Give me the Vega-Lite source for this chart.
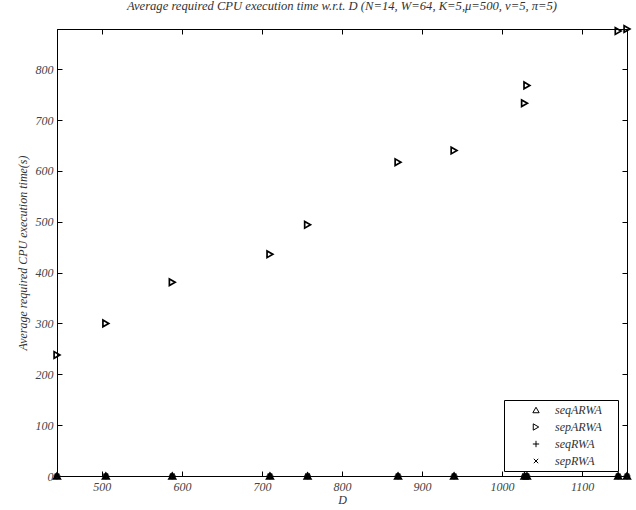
{
  "$schema": "https://vega.github.io/schema/vega-lite/v6.json",
  "autosize": {"type": "none"},
  "padding": {"left": 57, "top": 29, "right": 9, "bottom": 34},
  "width": 570,
  "height": 447,
  "background": "white",
  "title": {
    "text": "Average required CPU execution time w.r.t. D (N=14, W=64, K=5,μ=500, ν=5, π=5)",
    "font": "Liberation Serif",
    "fontStyle": "italic",
    "fontWeight": "normal",
    "fontSize": 12.6,
    "color": "#333333",
    "anchor": "middle",
    "offset": 10
  },
  "config": {
    "view": {"stroke": "black", "strokeWidth": 1},
    "axis": {
      "grid": false,
      "domainColor": "black",
      "tickColor": "black",
      "labelFont": "Liberation Serif",
      "labelFontStyle": "italic",
      "labelFontSize": 12,
      "labelColor": "#444444",
      "titleFont": "Liberation Serif",
      "titleFontStyle": "italic",
      "titleFontWeight": "normal",
      "titleFontSize": 12,
      "titleColor": "#333333"
    }
  },
  "data": {
    "values": [
      {"D": 444, "series": "sepARWA", "t": 238},
      {"D": 505, "series": "sepARWA", "t": 300},
      {"D": 588, "series": "sepARWA", "t": 381},
      {"D": 710, "series": "sepARWA", "t": 436},
      {"D": 757, "series": "sepARWA", "t": 494},
      {"D": 870, "series": "sepARWA", "t": 617},
      {"D": 940, "series": "sepARWA", "t": 640},
      {"D": 1028, "series": "sepARWA", "t": 733},
      {"D": 1031, "series": "sepARWA", "t": 768},
      {"D": 1145, "series": "sepARWA", "t": 875},
      {"D": 1156, "series": "sepARWA", "t": 879},
      {"D": 444, "series": "seqARWA", "t": 0},
      {"D": 505, "series": "seqARWA", "t": 0},
      {"D": 588, "series": "seqARWA", "t": 0},
      {"D": 710, "series": "seqARWA", "t": 0},
      {"D": 757, "series": "seqARWA", "t": 0},
      {"D": 870, "series": "seqARWA", "t": 0},
      {"D": 940, "series": "seqARWA", "t": 0},
      {"D": 1028, "series": "seqARWA", "t": 0},
      {"D": 1031, "series": "seqARWA", "t": 0},
      {"D": 1145, "series": "seqARWA", "t": 0},
      {"D": 1156, "series": "seqARWA", "t": 0},
      {"D": 444, "series": "seqRWA", "t": 0},
      {"D": 505, "series": "seqRWA", "t": 0},
      {"D": 588, "series": "seqRWA", "t": 0},
      {"D": 710, "series": "seqRWA", "t": 0},
      {"D": 757, "series": "seqRWA", "t": 0},
      {"D": 870, "series": "seqRWA", "t": 0},
      {"D": 940, "series": "seqRWA", "t": 0},
      {"D": 1028, "series": "seqRWA", "t": 0},
      {"D": 1031, "series": "seqRWA", "t": 0},
      {"D": 1145, "series": "seqRWA", "t": 0},
      {"D": 1156, "series": "seqRWA", "t": 0},
      {"D": 444, "series": "sepRWA", "t": 0},
      {"D": 505, "series": "sepRWA", "t": 0},
      {"D": 588, "series": "sepRWA", "t": 0},
      {"D": 710, "series": "sepRWA", "t": 0},
      {"D": 757, "series": "sepRWA", "t": 0},
      {"D": 870, "series": "sepRWA", "t": 0},
      {"D": 940, "series": "sepRWA", "t": 0},
      {"D": 1028, "series": "sepRWA", "t": 0},
      {"D": 1031, "series": "sepRWA", "t": 0},
      {"D": 1145, "series": "sepRWA", "t": 0},
      {"D": 1156, "series": "sepRWA", "t": 0}
    ]
  },
  "layer": [
    {
      "mark": {"type": "point", "filled": false, "color": "black", "strokeWidth": 1.7, "size": 45, "opacity": 1},
      "encoding": {
        "x": {
          "field": "D", "type": "quantitative",
          "scale": {"domain": [444, 1156], "nice": false, "zero": false},
          "axis": {"values": [500, 600, 700, 800, 900, 1000, 1100], "format": "d", "tickSize": -5, "labelPadding": 10, "title": "D", "titlePadding": 2}
        },
        "y": {
          "field": "t", "type": "quantitative",
          "scale": {"domain": [0, 879], "nice": false},
          "axis": {"values": [0, 100, 200, 300, 400, 500, 600, 700, 800], "format": "d", "tickSize": -5, "labelPadding": 9, "title": "Average required CPU execution time(s)", "titlePadding": 6}
        },
        "shape": {
          "field": "series", "type": "nominal",
          "scale": {
            "domain": ["seqARWA", "sepARWA", "seqRWA", "sepRWA"],
            "range": ["triangle-up", "triangle-right", "M-1,0H1M0,-1V1", "M-0.7,-0.7L0.7,0.7M-0.7,0.7L0.7,-0.7"]
          },
          "legend": {
            "title": ".",
            "titleOrient": "right",
            "titleColor": "transparent",
            "titleFontSize": 12,
            "titlePadding": 8,
            "orient": "none",
            "legendX": 447,
            "legendY": 371,
            "padding": 4,
            "fillColor": "white",
            "strokeColor": "black",
            "symbolOffset": 22,
            "labelOffset": 13,
            "rowPadding": 5,
            "symbolSize": 40,
            "symbolStrokeColor": "black",
            "symbolStrokeWidth": 1,
            "symbolFillColor": "transparent",
            "labelFont": "Liberation Serif",
            "labelFontStyle": "italic",
            "labelFontSize": 12,
            "labelColor": "#333333"
          }
        }
      }
    },
    {
      "mark": {"type": "point", "opacity": 0},
      "encoding": {
        "x": {"field": "D", "type": "quantitative", "axis": {"orient": "top", "values": [500, 600, 700, 800, 900, 1000, 1100], "tickSize": -5, "labels": false, "title": null}},
        "y": {"field": "t", "type": "quantitative", "axis": {"orient": "right", "values": [0, 100, 200, 300, 400, 500, 600, 700, 800], "tickSize": -5, "labels": false, "title": null}}
      }
    }
  ],
  "resolve": {"axis": {"x": "independent", "y": "independent"}}
}
